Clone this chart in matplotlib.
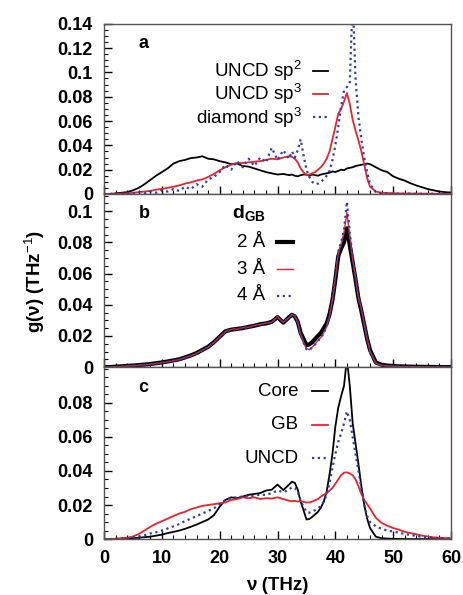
import numpy as np
import matplotlib
matplotlib.use("Agg")
import matplotlib.pyplot as plt
from matplotlib.ticker import MultipleLocator, FuncFormatter

plt.rcParams['font.family'] = ['Liberation Sans', 'DejaVu Sans']
plt.rcParams['mathtext.fontset'] = 'custom'
plt.rcParams['mathtext.rm'] = 'Liberation Sans'
plt.rcParams['mathtext.bf'] = 'Liberation Sans:bold'

# frequency grid (THz): 1 THz steps, 0.5 THz around the optical peak
nu = np.concatenate([np.arange(0, 33, 1.0), np.arange(32.5, 46.5, 0.5), np.arange(47, 61, 1.0)])

# ---- panel a ----
uncd_sp2 = [0, 0, 0.0005, 0.001, 0.0015, 0.003, 0.005, 0.008, 0.0115, 0.015, 0.018, 0.021, 0.025,
            0.027, 0.028, 0.0295, 0.030, 0.031, 0.029, 0.0285, 0.027, 0.026, 0.0245, 0.025, 0.023,
            0.0225, 0.021, 0.0195, 0.018, 0.017, 0.016, 0.0165, 0.0155,
            0.016, 0.015, 0.0145, 0.0155, 0.016, 0.016, 0.015, 0.016, 0.0155, 0.015, 0.016, 0.0165,
            0.017, 0.0175, 0.0185, 0.018, 0.019, 0.02, 0.0195, 0.021, 0.0215, 0.022, 0.023, 0.0235,
            0.024, 0.0245, 0.025, 0.0245,
            0.022, 0.0195, 0.018, 0.0145, 0.0125, 0.011, 0.0088, 0.007, 0.0055, 0.004, 0.003, 0.002,
            0.0015, 0.0012]
uncd_sp3 = [0, 0, 0, 0.0003, 0.0005, 0.001, 0.0015, 0.002, 0.0025, 0.0035, 0.0042, 0.005, 0.006,
            0.007, 0.0085, 0.0095, 0.011, 0.012, 0.014, 0.0165, 0.0195, 0.022, 0.024, 0.0255, 0.0255,
            0.026, 0.0265, 0.027, 0.028, 0.029, 0.0285, 0.030, 0.031,
            0.0305, 0.029, 0.026, 0.021, 0.018, 0.0155, 0.016, 0.017, 0.018, 0.020, 0.022, 0.025,
            0.029, 0.035, 0.045, 0.055, 0.066, 0.070, 0.076, 0.083, 0.074, 0.061, 0.052, 0.044,
            0.035, 0.024, 0.013, 0.006,
            0.002, 0.001, 0.0008, 0.0006, 0.0005, 0.0004, 0.0004, 0.0003, 0.0003, 0.0002, 0.0002,
            0.0001, 0.0001, 0.0001]
diamond_sp3 = [0, 0, 0.0005, 0, 0.0008, 0.0003, 0.0015, 0.0005, 0.002, 0.001, 0.003, 0.002, 0.004,
               0.0025, 0.006, 0.004, 0.008, 0.006, 0.012, 0.014, 0.018, 0.024, 0.020, 0.027, 0.022,
               0.029, 0.023, 0.030, 0.026, 0.038, 0.028, 0.036, 0.029,
               0.035, 0.030, 0.036, 0.045, 0.032, 0.020, 0.014, 0.010, 0.008, 0.0085, 0.010, 0.012,
               0.015, 0.019, 0.028, 0.040, 0.055, 0.072, 0.085, 0.088, 0.092, 0.160, 0.095, 0.063,
               0.045, 0.030, 0.018, 0.008,
               0.0015, 0.0003, 0.0005, 0, 0.0003, 0, 0.0003, 0, 0.0002, 0, 0.0002, 0, 0.0001, 0]

# ---- panel b ----
dgb_2 = [0, 0, 0.0003, 0.0005, 0.0008, 0.001, 0.0013, 0.0016, 0.002, 0.0025, 0.003, 0.0036, 0.0043,
         0.005, 0.0062, 0.0075, 0.009, 0.011, 0.013, 0.016, 0.0195, 0.023, 0.024, 0.0245, 0.025,
         0.0258, 0.0265, 0.0275, 0.028, 0.029, 0.032, 0.0285, 0.032,
         0.0335, 0.0325, 0.029, 0.022, 0.018, 0.0142, 0.0145, 0.016, 0.018, 0.020, 0.022, 0.025,
         0.028, 0.034, 0.043, 0.056, 0.071, 0.076, 0.080, 0.089, 0.078, 0.067, 0.056, 0.044,
         0.036, 0.027, 0.018, 0.011,
         0.003, 0.0015, 0.001, 0.0007, 0.0005, 0.0004, 0.0003, 0.0002, 0.0002, 0.0001, 0.0001, 0,
         0, 0]
dgb_3 = [0, 0, 0.0002, 0.0004, 0.0007, 0.0009, 0.0012, 0.0015, 0.0018, 0.0023, 0.0028, 0.0034,
         0.0041, 0.0048, 0.006, 0.0073, 0.0088, 0.0108, 0.0128, 0.0158, 0.0193, 0.0228, 0.0242,
         0.0243, 0.0252, 0.0256, 0.0267, 0.0273, 0.0282, 0.0288, 0.0322, 0.0287, 0.0318,
         0.0338, 0.0328, 0.0288, 0.021, 0.016, 0.0118, 0.0112, 0.0128, 0.0148, 0.017, 0.019, 0.022,
         0.026, 0.033, 0.043, 0.057, 0.073, 0.079, 0.086, 0.099, 0.084, 0.069, 0.057, 0.045,
         0.037, 0.028, 0.018, 0.010,
         0.0025, 0.0012, 0.0008, 0.0006, 0.0004, 0.0003, 0.0003, 0.0002, 0.0001, 0.0001, 0, 0,
         0, 0]
dgb_4 = [0, 0, 0.0002, 0.0004, 0.0007, 0.0009, 0.0012, 0.0015, 0.0018, 0.0023, 0.0028, 0.0034,
         0.0041, 0.0048, 0.006, 0.0073, 0.0088, 0.0108, 0.0128, 0.0158, 0.0193, 0.0228, 0.0242,
         0.0243, 0.0252, 0.0256, 0.0267, 0.0273, 0.0282, 0.0288, 0.0322, 0.0287, 0.0318,
         0.0338, 0.0328, 0.0288, 0.0208, 0.0158, 0.0115, 0.011, 0.0126, 0.0146, 0.0168, 0.0188,
         0.0218, 0.026, 0.033, 0.044, 0.058, 0.074, 0.080, 0.088, 0.106, 0.086, 0.070, 0.057,
         0.045, 0.037, 0.028, 0.018, 0.010,
         0.0025, 0.0012, 0.0008, 0.0006, 0.0004, 0.0003, 0.0003, 0.0002, 0.0001, 0.0001, 0, 0,
         0, 0]

# ---- panel c ----
core = [0, 0, 0, 0.0002, 0.0004, 0.0006, 0.0008, 0.0011, 0.0014, 0.002, 0.0026, 0.0035, 0.0042,
        0.005, 0.006, 0.0072, 0.0085, 0.010, 0.0115, 0.014, 0.019, 0.023, 0.0245, 0.024, 0.025,
        0.026, 0.0265, 0.027, 0.0285, 0.029, 0.032, 0.0288, 0.032,
        0.0337, 0.033, 0.029, 0.022, 0.017, 0.0115, 0.0118, 0.013, 0.0145, 0.016, 0.0185, 0.022,
        0.028, 0.038, 0.050, 0.066, 0.077, 0.084, 0.090, 0.106, 0.090, 0.068, 0.056, 0.044,
        0.031, 0.020, 0.012, 0.0065,
        0.0014, 0.0005, 0.0003, 0.0001, 0.0001, 0, 0, 0, 0, 0, 0, 0, 0, 0]
gb = [0, 0, 0.0002, 0.0005, 0.0008, 0.0015, 0.003, 0.005, 0.0072, 0.009, 0.0105, 0.012, 0.0135,
      0.015, 0.016, 0.0175, 0.0185, 0.0195, 0.020, 0.0205, 0.021, 0.0215, 0.023, 0.0235, 0.0245,
      0.024, 0.0245, 0.0235, 0.024, 0.0238, 0.0245, 0.0235, 0.0225,
      0.0222, 0.0225, 0.022, 0.0222, 0.0218, 0.0215, 0.0215, 0.022, 0.0228, 0.0235, 0.025, 0.026,
      0.027, 0.0285, 0.030, 0.0325, 0.035, 0.0375, 0.039, 0.0392, 0.0385, 0.0375, 0.035, 0.031,
      0.0265, 0.023, 0.0205, 0.018,
      0.0125, 0.0095, 0.0078, 0.0065, 0.0055, 0.0043, 0.0035, 0.0028, 0.002, 0.0015, 0.001,
      0.0008, 0.0006, 0.0005]
uncd = [0, 0, 0.0001, 0.0003, 0.0005, 0.001, 0.0015, 0.0022, 0.0033, 0.004, 0.005, 0.0062, 0.0075,
        0.0088, 0.0105, 0.012, 0.0135, 0.015, 0.0165, 0.018, 0.0205, 0.023, 0.0242, 0.0245, 0.025,
        0.0252, 0.0255, 0.026, 0.026, 0.027, 0.0285, 0.0275, 0.029,
        0.0305, 0.030, 0.028, 0.0225, 0.019, 0.016, 0.0155, 0.016, 0.017, 0.018, 0.0195, 0.022,
        0.026, 0.033, 0.042, 0.050, 0.057, 0.062, 0.068, 0.075, 0.070, 0.060, 0.050, 0.040,
        0.030, 0.020, 0.0135, 0.010,
        0.0075, 0.006, 0.005, 0.0045, 0.0037, 0.003, 0.0024, 0.0018, 0.0013, 0.001, 0.0007,
        0.0005, 0.0004, 0.0003]

RED = '#e8242c'
BLUE = '#2f3fa8'
DOT = (0, (1, 1.6))

fig = plt.figure(figsize=(4.63, 5.95), dpi=100)
L, W = 104 / 463, 347 / 463
ax_a = fig.add_axes([L, 0.674, W, 0.286])
ax_b = fig.add_axes([L, 0.383, W, 0.291])
ax_c = fig.add_axes([L, 0.094, W, 0.289])

fmt = FuncFormatter(lambda v, p: '%g' % round(v, 4))


def style(ax, ymax, yticks):
    ax.set_xlim(0, 60)
    ax.set_ylim(0, ymax)
    ax.set_yticks(yticks)
    ax.yaxis.set_major_formatter(fmt)
    ax.xaxis.set_major_locator(MultipleLocator(10))
    ax.xaxis.set_minor_locator(MultipleLocator(2))
    ax.yaxis.set_minor_locator(MultipleLocator(0.005))
    ax.tick_params(which='both', direction='in', top=False, right=False)
    ax.tick_params(which='major', length=6, width=1, labelsize=13, pad=8)
    ax.tick_params(which='minor', length=3, width=0.8)
    for s in ax.spines.values():
        s.set_color('#555555')
        s.set_linewidth(1)
    for t in ax.get_yticklabels() + ax.get_xticklabels():
        t.set_fontweight('bold')


def key(ax, tx, lx, y, label, color, lw, ls):
    ax.text(tx, y, label, transform=ax.transAxes, ha='right', va='center', fontsize=13.5)
    ax.plot(lx, [y, y], transform=ax.transAxes, color=color, lw=lw, ls=ls, clip_on=False)


# panel a
ax_a.plot(nu, uncd_sp2, color='black', lw=1.3)
ax_a.plot(nu, uncd_sp3, color=RED, lw=1.3)
ax_a.plot(nu, diamond_sp3, color=BLUE, lw=1.6, ls=DOT)
style(ax_a, 0.14, np.arange(0, 0.141, 0.02))
ax_a.tick_params(labelbottom=False)
ax_a.text(0.10, 0.885, 'a', transform=ax_a.transAxes, fontsize=13, fontweight='bold', va='center')
key(ax_a, 0.57, [0.602, 0.646], 0.725, 'UNCD sp$^2$', 'black', 1.3, '-')
key(ax_a, 0.57, [0.602, 0.646], 0.59, 'UNCD sp$^3$', RED, 1.3, '-')
key(ax_a, 0.57, [0.602, 0.646], 0.45, 'diamond sp$^3$', BLUE, 1.6, DOT)

# panel b
ax_b.plot(nu, dgb_2, color='black', lw=3)
ax_b.plot(nu, dgb_3, color=RED, lw=1.0)
ax_b.plot(nu, dgb_4, color=BLUE, lw=1.6, ls=DOT)
style(ax_b, 0.111, np.arange(0, 0.101, 0.02))
ax_b.tick_params(labelbottom=False)
ax_b.text(0.10, 0.885, 'b', transform=ax_b.transAxes, fontsize=13, fontweight='bold', va='center')
ax_b.text(0.368, 0.885, r'$\mathbf{d}_{\mathbf{GB}}$', transform=ax_b.transAxes, fontsize=14,
          va='center')
key(ax_b, 0.465, [0.499, 0.545], 0.72, '2 Å', 'black', 3, '-')
key(ax_b, 0.465, [0.499, 0.545], 0.565, '3 Å', RED, 1.0, '-')
key(ax_b, 0.465, [0.499, 0.545], 0.412, '4 Å', BLUE, 1.6, DOT)

# panel c
ax_c.plot(nu, core, color='black', lw=1.3)
ax_c.plot(nu, gb, color=RED, lw=1.3)
ax_c.plot(nu, uncd, color=BLUE, lw=1.6, ls=DOT)
style(ax_c, 0.101, np.arange(0, 0.081, 0.02))
ax_c.text(0.10, 0.88, 'c', transform=ax_c.transAxes, fontsize=13, fontweight='bold', va='center')
key(ax_c, 0.56, [0.599, 0.646], 0.86, 'Core', 'black', 1.3, '-')
key(ax_c, 0.56, [0.599, 0.646], 0.665, 'GB', RED, 1.3, '-')
key(ax_c, 0.56, [0.599, 0.646], 0.47, 'UNCD', BLUE, 1.6, DOT)

fig.text(35 / 463, 1 - 281 / 595, 'g(ν) (THz$^{-1}$)', rotation=90, ha='center', va='center',
         fontsize=13.5, fontweight='bold')
fig.text(277 / 463, 1 - 585 / 595, 'ν (THz)', ha='center', va='center', fontsize=13.5,
         fontweight='bold')

fig.savefig('out.png', dpi=100)
